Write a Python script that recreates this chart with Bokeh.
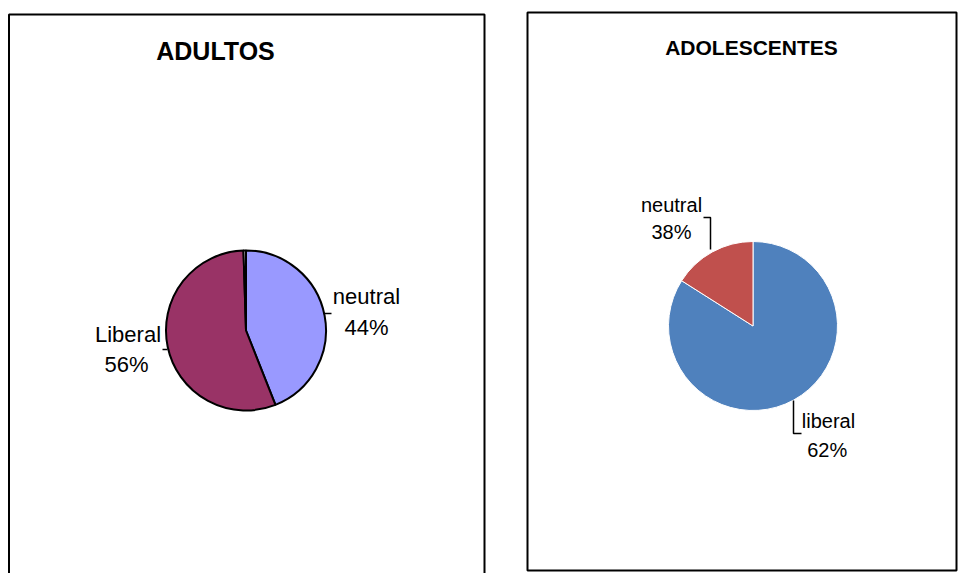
import math
from bokeh.plotting import figure
from bokeh.models import Range1d, ColumnDataSource
from bokeh.core.properties import value
from bokeh.embed import file_html
from bokeh.resources import INLINE

# ---- data ----
adult_categories = ["neutral", "Liberal", "otro"]
adult_values = [44.0, 55.5, 0.5]          # slice sizes as drawn
adult_labels = ["44%", "56%", ""]
adult_colors = ["#9999FF", "#993366", "#FFFFFF"]

teen_categories = ["liberal", "neutral"]
teen_values = [84.0, 16.0]                # slice sizes as drawn
teen_labels = ["62%", "38%"]               # percentages printed on the chart
teen_colors = ["#4F81BD", "#C0504D"]

titles = ["ADULTOS", "ADOLESCENTES"]

W, H = 960, 573
FONT = "Liberation Sans"


def py(y):
    # screen (top-down) position -> plot coordinate
    return H - y


p = figure(width=W, height=H, x_range=Range1d(0, W), y_range=Range1d(0, H),
           output_backend="svg", toolbar_location=None, min_border=0,
           x_axis_location=None, y_axis_location=None)
p.grid.visible = False
p.outline_line_color = None
p.background_fill_color = "white"


def wedge_source(vals, colors):
    total = float(sum(vals))
    starts, ends = [], []
    cum = 0.0
    for v in vals:
        starts.append(math.pi / 2 - 2 * math.pi * cum / total)
        cum += v
        ends.append(math.pi / 2 - 2 * math.pi * cum / total)
    return ColumnDataSource(dict(start=starts, end=ends, color=colors))


# panel borders
p.quad(left=[8.5, 527], right=[484, 956], top=[py(14), py(12)], bottom=[py(620), py(570)],
       fill_alpha=0, line_color="black", line_width=2)

# left pie (ADULTOS)
src_a = wedge_source(adult_values, adult_colors)
p.wedge(x=245.5, y=py(330), radius=80, start_angle="start", end_angle="end",
        direction="clock", fill_color="color", line_color="black",
        line_width=2, source=src_a)

# right pie (ADOLESCENTES)
src_t = wedge_source(teen_values, teen_colors)
p.wedge(x=752.5, y=py(325.5), radius=84.5, start_angle="start", end_angle="end",
        direction="clock", fill_color="color", line_color="white",
        line_width=1, source=src_t)

# titles
p.text(x=[215], y=[py(50)], text=[titles[0]], text_font=value(FONT),
       text_font_style="bold", text_font_size="25px", text_align="center",
       text_baseline="middle", text_color="black")
p.text(x=[751], y=[py(47)], text=[titles[1]], text_font=value(FONT),
       text_font_style="bold", text_font_size="21px", text_align="center",
       text_baseline="middle", text_color="black")

# left labels
p.text(x=[366, 366, 127.5, 126], y=[py(296), py(327), py(334), py(364)],
       text=[adult_categories[0], adult_labels[0], adult_categories[1], adult_labels[1]],
       text_font=value(FONT), text_font_size="22px", text_align="center",
       text_baseline="middle", text_color="black")

# right labels
p.text(x=[671, 671, 828, 826.7], y=[py(204), py(231), py(420), py(449)],
       text=[teen_categories[1], teen_labels[1], teen_categories[0], teen_labels[0]],
       text_font=value(FONT), text_font_size="20px", text_align="center",
       text_baseline="middle", text_color="black")

# leader lines
p.multi_line(xs=[[323, 331], [162, 167], [703, 710, 710], [801, 793, 793]],
             ys=[[py(313), py(313)], [py(349), py(349)],
                 [py(217), py(217), py(249)], [py(433), py(433), py(400)]],
             line_color="black", line_width=1.5)

open("out.html", "w").write(file_html(p, INLINE))
